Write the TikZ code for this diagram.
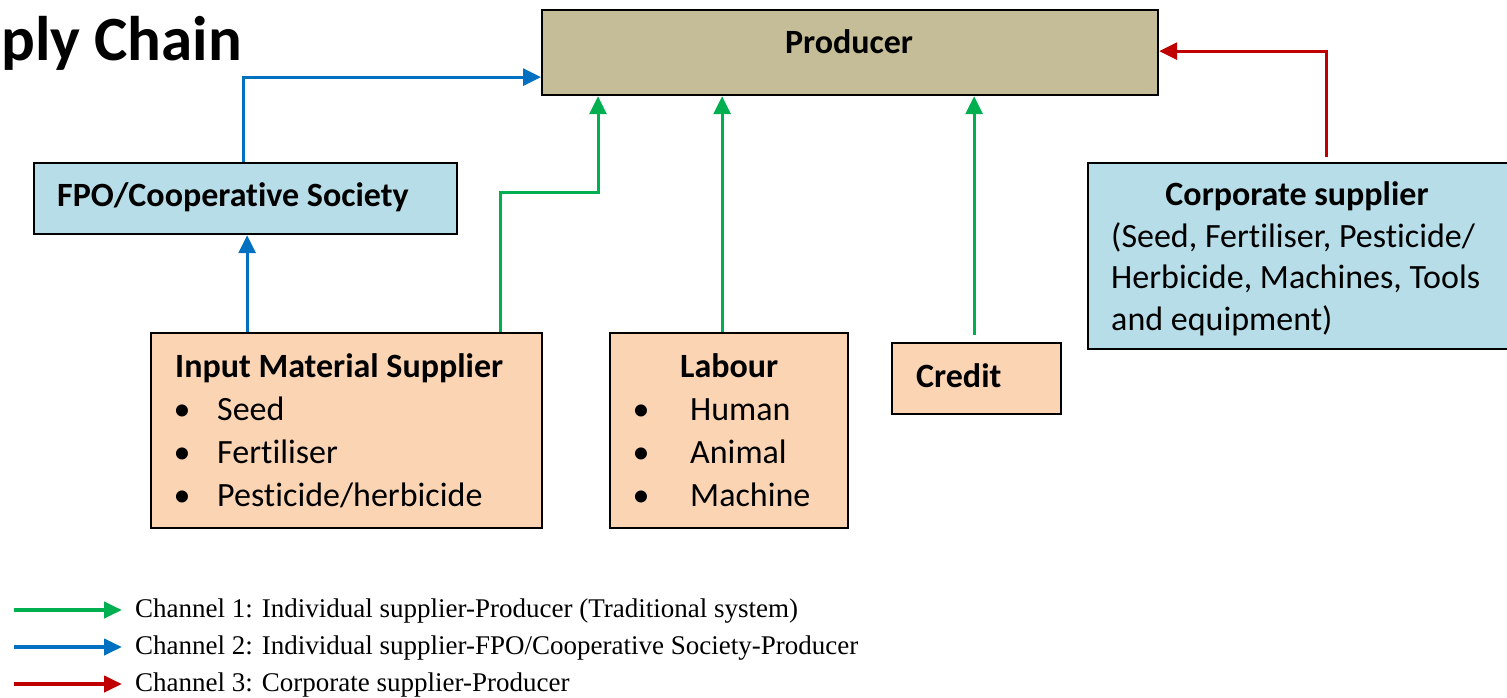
\documentclass[tikz,border=0pt]{standalone}
\usepackage{fontspec}
\setmainfont{Carlito}[Ligatures=NoCommon]
\newfontfamily\legendfont{Liberation Serif}
\usetikzlibrary{arrows.meta}

\definecolor{prodfill}{HTML}{C4BD97}
\definecolor{bluefill}{HTML}{B7DEE8}
\definecolor{peachfill}{HTML}{FBD4B4}
\definecolor{chgreen}{HTML}{00B050}
\definecolor{chblue}{HTML}{0070C0}
\definecolor{chred}{HTML}{C00000}

\begin{document}
\begin{tikzpicture}[x=1pt,y=-1pt,
  box/.style={draw=black, line width=2.2pt, inner sep=0pt, anchor=north west},
  txt/.style={anchor=base west, inner sep=0pt, font=\fontsize{34}{40}\selectfont},
  boldtxt/.style={txt, font=\fontsize{34}{40}\selectfont\bfseries},
  bul/.style={anchor=base, inner sep=0pt, font=\fontsize{34}{40}\selectfont},
  link/.style={line width=3pt, -{Triangle[length=18pt,width=17pt]}},
  keyarrow/.style={line width=4pt, -{Triangle[length=18pt,width=16pt]}},
  keytxt/.style={anchor=base west, inner sep=0pt, font=\legendfont\fontsize{27}{32}\selectfont}]

\clip (0,0) rectangle (1507,697);

% heading (runs off the left edge)
\node[anchor=base west, inner sep=0pt, font=\fontsize{63}{70}\selectfont\bfseries] (title) at (1,60) {ply Chain};

% boxes
\node[box, fill=prodfill, minimum width=616pt, minimum height=85pt] (prod) at (541,9) {};
\node[anchor=base, inner sep=0pt, font=\fontsize{34}{40}\selectfont\bfseries] (prodtxt) at (849,53) {Producer};

\node[box, fill=bluefill, minimum width=423pt, minimum height=71pt] (fpo) at (33,162) {};
\node[boldtxt] (fpotxt) at (57,206) {FPO/Cooperative Society};

\node[box, fill=peachfill, minimum width=391pt, minimum height=195pt] (inp) at (150,332) {};
\node[boldtxt] (inptitle) at (175,377) {Input Material Supplier};
\node[bul] (ib1) at (182,420) {•};
\node[txt] (inp1) at (217,420) {Seed};
\node[bul] (ib2) at (182,463) {•};
\node[txt] (inp2) at (217,463) {Fertiliser};
\node[bul] (ib3) at (182,506) {•};
\node[txt] (inp3) at (217,506) {Pesticide/herbicide};

\node[box, fill=peachfill, minimum width=238pt, minimum height=195pt] (lab) at (609,332) {};
\node[boldtxt] (labtitle) at (680,377) {Labour};
\node[bul] (lb1) at (641,420) {•};
\node[txt] (lab1) at (690,420) {Human};
\node[bul] (lb2) at (641,463) {•};
\node[txt] (lab2) at (690,463) {Animal};
\node[bul] (lb3) at (641,506) {•};
\node[txt] (lab3) at (690,506) {Machine};

\node[box, fill=peachfill, minimum width=169pt, minimum height=71pt] (cred) at (891,342) {};
\node[boldtxt] (credtxt) at (916,387) {Credit};

\node[box, fill=bluefill, minimum width=430pt, minimum height=186pt] (corp) at (1087,162) {};
\node[anchor=base, inner sep=0pt, font=\fontsize{34}{40}\selectfont\bfseries] (corptitle) at (1297,205) {Corporate supplier};
\node[txt] (corp1) at (1111,247) {(Seed, Fertiliser, Pesticide/};
\node[txt] (corp2) at (1111,288) {Herbicide, Machines, Tools};
\node[txt] (corp3) at (1111,330) {and equipment)};

% channel 2 (via FPO / cooperative)
\draw[link, chblue] ([xshift=-2.5pt]fpo.north) |- ([yshift=-24.5pt]prod.west);
\draw[link, chblue] ([xshift=-99.5pt]inp.north) -- ([xshift=-99.5pt]inp.north |- fpo.south);

% channel 1 (direct to producer)
\coordinate (bend) at (598,192);
\draw[link, chgreen] ([xshift=153.5pt]inp.north) |- (bend) -- (bend |- prod.south);
\draw[link, chgreen] ([xshift=-7pt]lab.north) -- ([xshift=-7pt]lab.north |- prod.south);
\draw[link, chgreen] ([xshift=-2.5pt,yshift=7pt]cred.north) -- ([xshift=-2.5pt]cred.north |- prod.south);

% channel 3 (corporate)
\draw[link, chred] ([xshift=23pt,yshift=5pt]corp.north) |- ([yshift=1.5pt]prod.east);

% key
\coordinate (k1a) at (14,610); \coordinate (k1b) at (122,610);
\coordinate (k2a) at (14,647); \coordinate (k2b) at (122,647);
\coordinate (k3a) at (14,684); \coordinate (k3b) at (122,684);
\draw[keyarrow, chgreen] (k1a) -- (k1b);
\draw[keyarrow, chblue] (k2a) -- (k2b);
\draw[keyarrow, chred] (k3a) -- (k3b);
\node[keytxt] (key1) at (135,617) {Channel 1: Individual supplier-Producer (Traditional system)};
\node[keytxt] (key2) at (135,654) {Channel 2: Individual supplier-FPO/Cooperative Society-Producer};
\node[keytxt] (key3) at (135,691) {Channel 3: Corporate supplier-Producer};
\end{tikzpicture}
\end{document}
